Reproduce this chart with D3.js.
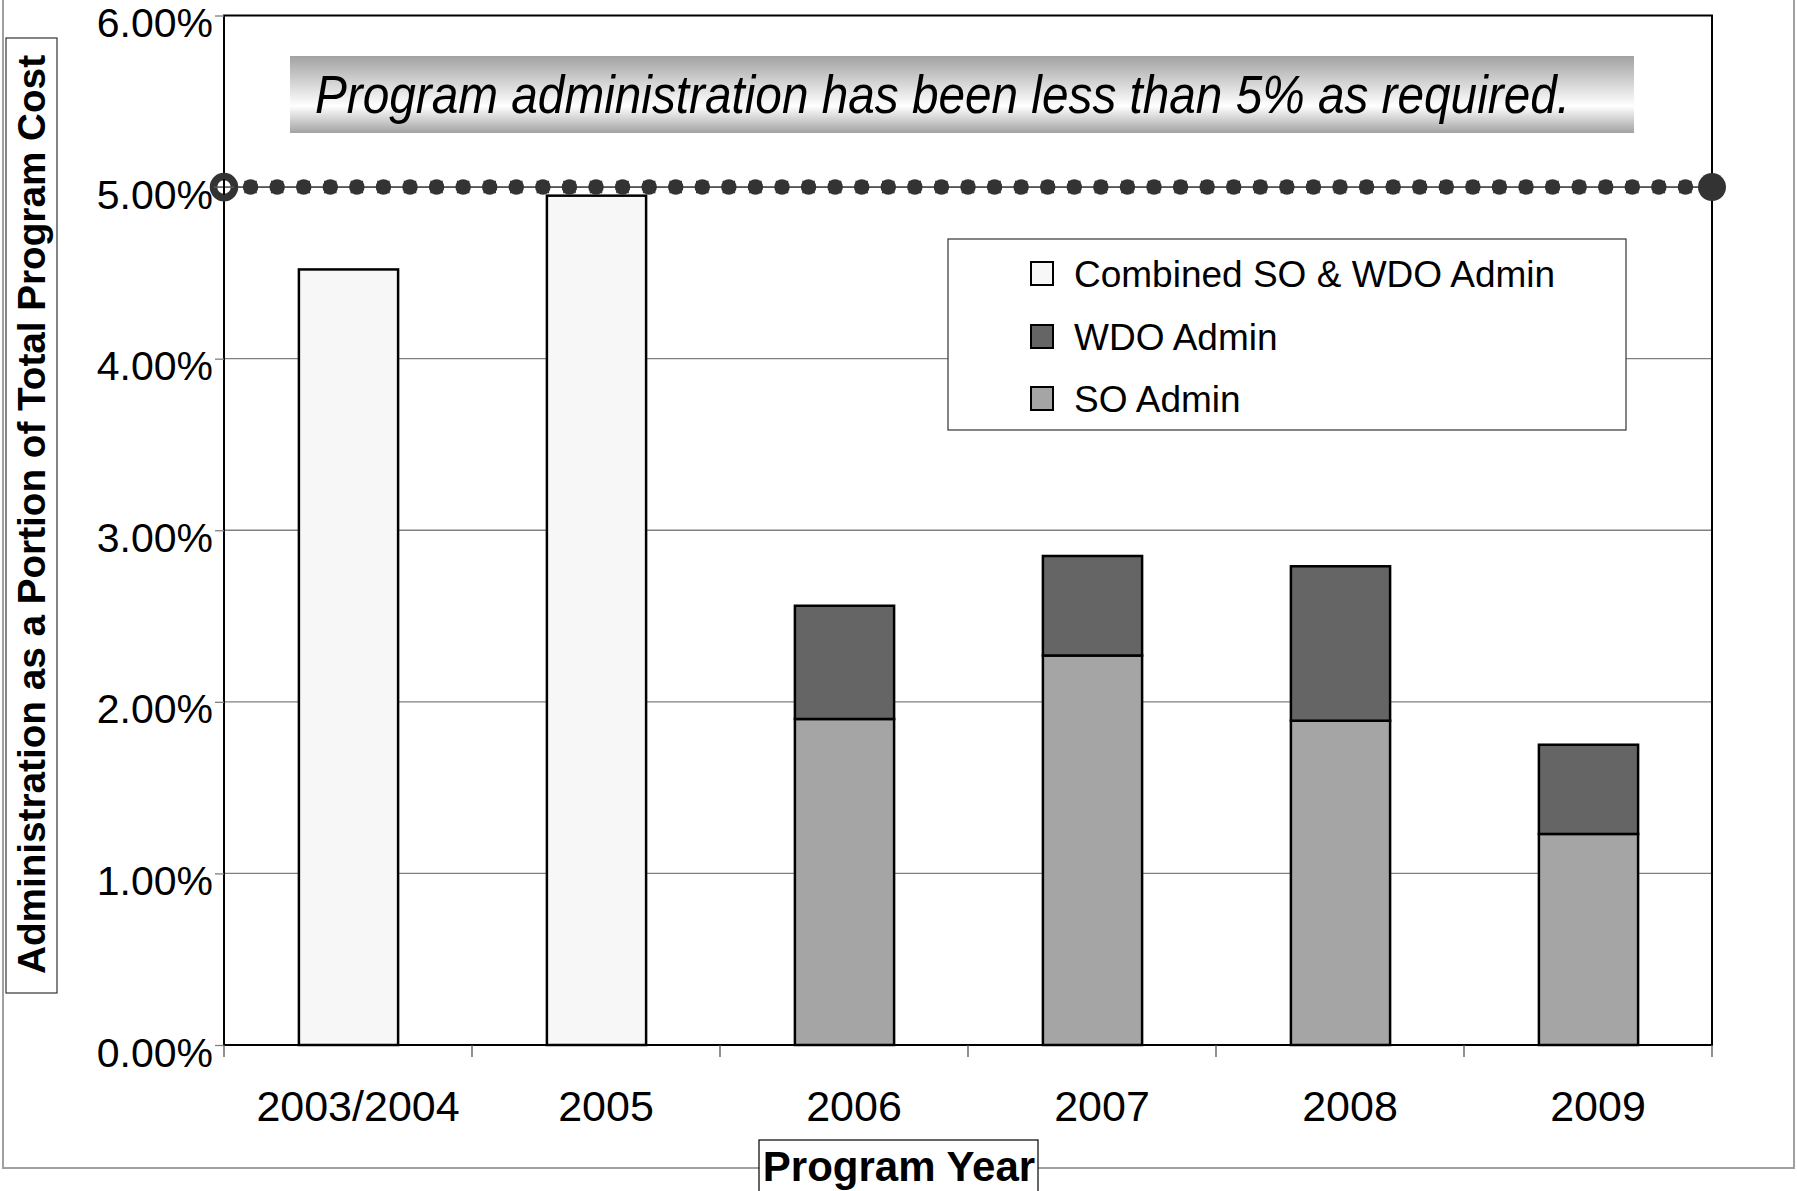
<!DOCTYPE html>
<html>
<head>
<meta charset="utf-8">
<script src="https://cdn.jsdelivr.net/npm/d3@7"></script>
<style>
  html, body { margin: 0; padding: 0; background: #fff; }
  svg { display: block; font-family: "Liberation Sans", Arial, sans-serif; }
</style>
</head>
<body>
<svg id="chart" width="1797" height="1191"></svg>
<script>
// ---- data ----
const categories = ["2003/2004", "2005", "2006", "2007", "2008", "2009"];
const combinedAdmin = [4.52, 4.95, null, null, null, null];
const soAdmin = [null, null, 1.90, 2.27, 1.89, 1.23];
const wdoAdmin = [null, null, 0.66, 0.58, 0.90, 0.52];
const limitValue = 5;
const yTicks = [0, 1, 2, 3, 4, 5, 6];
const legendLabels = ["Combined SO & WDO Admin", "WDO Admin", "SO Admin"];
const bannerText = "Program administration has been less than 5% as required.";
const yTitle = "Administration as a Portion of Total Program Cost";
const xTitle = "Program Year";

// ---- layout ----
const plot = { left: 224, right: 1712, top: 15.5, bottom: 1045 };
const colors = { combined: "#f7f7f7", wdo: "#656565", so: "#a5a5a5" };

const svg = d3.select("#chart");

const x = d3.scaleBand().domain(categories)
  .range([plot.left, plot.right]).paddingInner(0.6).paddingOuter(0.3);
const y = d3.scaleLinear().domain([0, 6]).range([plot.bottom, plot.top]);

// outer chart border
svg.append("rect").attr("x", 3).attr("y", -10).attr("width", 1791).attr("height", 1178)
  .attr("fill", "#fff").attr("stroke", "#a0a0a0").attr("stroke-width", 2);

// gradient def
const defs = svg.append("defs");
const grad = defs.append("linearGradient").attr("id", "bannerGrad")
  .attr("x1", 0).attr("y1", 0).attr("x2", 0).attr("y2", 1);
grad.append("stop").attr("offset", "0%").attr("stop-color", "#a2a2a2");
grad.append("stop").attr("offset", "65%").attr("stop-color", "#ffffff");
grad.append("stop").attr("offset", "100%").attr("stop-color", "#a2a2a2");

// gridlines
svg.append("g").selectAll("line").data(yTicks.filter(d => d > 0 && d < 6)).join("line")
  .attr("x1", plot.left).attr("x2", plot.right)
  .attr("y1", d => y(d)).attr("y2", d => y(d))
  .attr("stroke", "#808080").attr("stroke-width", 1.3);

// bars
const barG = svg.append("g").attr("stroke", "#000").attr("stroke-width", 2.5);
const dx = 0.5;
categories.forEach((c, i) => {
  if (combinedAdmin[i] != null) {
    barG.append("rect").attr("x", x(c) + dx).attr("width", x.bandwidth())
      .attr("y", y(combinedAdmin[i])).attr("height", y(0) - y(combinedAdmin[i]))
      .attr("fill", colors.combined);
  }
  if (soAdmin[i] != null) {
    barG.append("rect").attr("x", x(c) + dx).attr("width", x.bandwidth())
      .attr("y", y(soAdmin[i])).attr("height", y(0) - y(soAdmin[i]))
      .attr("fill", colors.so);
    const top = soAdmin[i] + wdoAdmin[i];
    barG.append("rect").attr("x", x(c) + dx).attr("width", x.bandwidth())
      .attr("y", y(top)).attr("height", y(soAdmin[i]) - y(top))
      .attr("fill", colors.wdo);
  }
});

// plot border
svg.append("rect").attr("x", plot.left).attr("y", plot.top)
  .attr("width", plot.right - plot.left).attr("height", plot.bottom - plot.top)
  .attr("fill", "none").attr("stroke", "#000").attr("stroke-width", 2);

// y axis
const yAxis = svg.append("g").attr("transform", `translate(${plot.left},0)`)
  .call(d3.axisLeft(y).tickValues(yTicks).tickSize(9).tickFormat(d => d.toFixed(2) + "%"));
yAxis.select(".domain").remove();
yAxis.selectAll(".tick line").attr("stroke", "#808080").attr("stroke-width", 1.3);
yAxis.selectAll(".tick text").attr("x", -11).attr("dy", "21px")
  .attr("font-size", 41).attr("fill", "#000")
  .attr("font-family", "'Liberation Sans', Arial, sans-serif");

// x axis
const xAxis = svg.append("g").attr("transform", `translate(0,${plot.bottom})`)
  .call(d3.axisBottom(x).tickSize(0));
xAxis.select(".domain").remove();
xAxis.selectAll(".tick text").attr("x", 10).attr("y", 0).attr("dy", "76px")
  .attr("font-size", 43).attr("fill", "#000")
  .attr("font-family", "'Liberation Sans', Arial, sans-serif");
// category boundary ticks
const bounds = d3.range(categories.length + 1).map(i => x(categories[0]) - x.paddingInner() * x.step() / 2 + i * x.step());
svg.append("g").selectAll("line").data(bounds).join("line")
  .attr("x1", d => d).attr("x2", d => d)
  .attr("y1", plot.bottom).attr("y2", plot.bottom + 12)
  .attr("stroke", "#555").attr("stroke-width", 1.3);

// limit line (5%)
const ly = y(limitValue);
const limitG = svg.append("g");
limitG.append("line").attr("x1", plot.left - 10).attr("x2", plot.right)
  .attr("y1", ly).attr("y2", ly).attr("stroke", "#555").attr("stroke-width", 1.6);
const span = plot.right - plot.left;
const nSeg = 56;
const dash = `0 ${span / nSeg}`;
limitG.append("line").attr("x1", plot.left).attr("x2", plot.right)
  .attr("y1", ly).attr("y2", ly)
  .attr("stroke", "#333").attr("stroke-width", 12.5).attr("stroke-linecap", "square")
  .attr("stroke-dasharray", dash);
limitG.append("line").attr("x1", plot.left).attr("x2", plot.right)
  .attr("y1", ly).attr("y2", ly)
  .attr("stroke", "#333").attr("stroke-width", 15.5).attr("stroke-linecap", "round")
  .attr("stroke-dasharray", dash);
limitG.append("circle").attr("cx", plot.left).attr("cy", ly).attr("r", 10.5)
  .attr("fill", "#fff").attr("stroke", "#333").attr("stroke-width", 7.5);
limitG.append("line").attr("x1", plot.left - 10).attr("x2", plot.left + 10)
  .attr("y1", ly).attr("y2", ly).attr("stroke", "#555").attr("stroke-width", 1.6);
limitG.append("line").attr("x1", plot.left).attr("x2", plot.left)
  .attr("y1", ly - 8).attr("y2", ly + 8).attr("stroke", "#000").attr("stroke-width", 2);
limitG.append("circle").attr("cx", plot.right).attr("cy", ly).attr("r", 14)
  .attr("fill", "#333");

// banner
svg.append("rect").attr("x", 290).attr("y", 56).attr("width", 1344).attr("height", 77)
  .attr("fill", "url(#bannerGrad)");
svg.append("text").attr("transform", "translate(315,113) scale(1,1.1)")
  .attr("font-size", 48).attr("font-style", "italic").attr("fill", "#000")
  .attr("textLength", 1255).attr("lengthAdjust", "spacingAndGlyphs")
  .text(bannerText);

// legend
const lg = svg.append("g");
lg.append("rect").attr("x", 948).attr("y", 239).attr("width", 678).attr("height", 191)
  .attr("fill", "#fff").attr("stroke", "#333").attr("stroke-width", 1.2);
const legendFills = [colors.combined, colors.wdo, colors.so];
const legendBase = [287, 350, 412];
legendLabels.forEach((t, i) => {
  lg.append("rect").attr("x", 1031).attr("y", legendBase[i] - 25).attr("width", 22).attr("height", 23)
    .attr("fill", legendFills[i]).attr("stroke", "#000").attr("stroke-width", 2);
  lg.append("text").attr("x", 1074).attr("y", legendBase[i])
    .attr("font-size", 37).attr("fill", "#000").text(t);
});

// y title box
svg.append("rect").attr("x", 6).attr("y", 38).attr("width", 51).attr("height", 955)
  .attr("fill", "#fff").attr("stroke", "#333").attr("stroke-width", 1.2);
svg.append("text").attr("transform", "translate(45,514.5) rotate(-90)")
  .attr("text-anchor", "middle").attr("font-size", 38).attr("font-weight", "bold")
  .attr("textLength", 919).attr("lengthAdjust", "spacingAndGlyphs")
  .attr("fill", "#000").text(yTitle);

// x title box
svg.append("rect").attr("x", 759).attr("y", 1140).attr("width", 279).attr("height", 70)
  .attr("fill", "#fff").attr("stroke", "#000").attr("stroke-width", 1.2);
svg.append("text").attr("x", 899).attr("y", 1181).attr("text-anchor", "middle")
  .attr("font-size", 42).attr("font-weight", "bold").attr("fill", "#000").text(xTitle);
</script>
</body>
</html>
